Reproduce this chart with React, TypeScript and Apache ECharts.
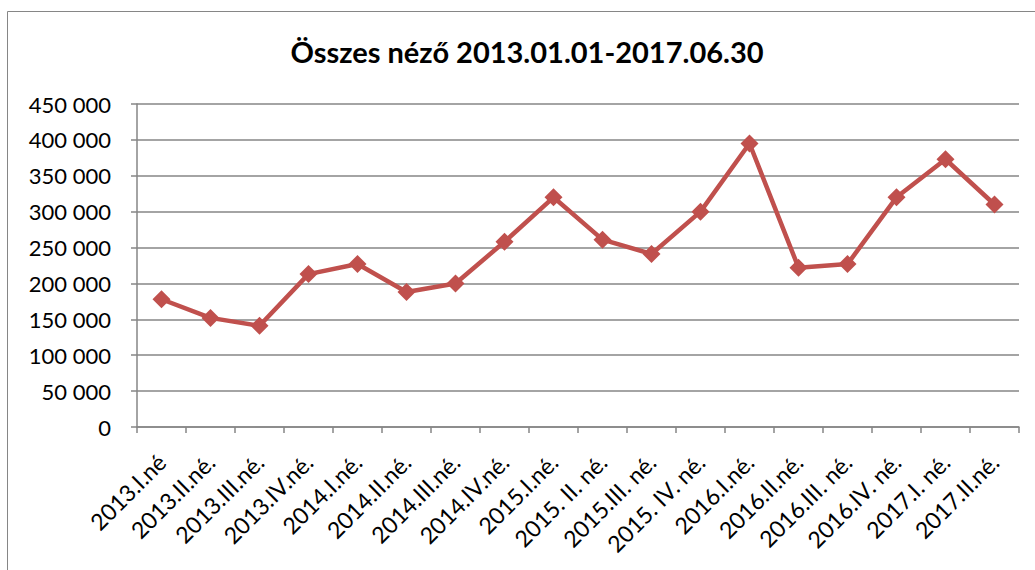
import React, { useEffect, useRef } from "react";
import * as echarts from "echarts";

const titleText = "Összes néző 2013.01.01-2017.06.30";
const categories = [
  "2013.I.né", "2013.II.né.", "2013.III.né.", "2013.IV.né.",
  "2014.I.né.", "2014.II.né.", "2014.III.né.", "2014.IV.né.",
  "2015.I.né.", "2015. II. né.", "2015.III. né.", "2015. IV. né.",
  "2016.I.né.", "2016.II.né.", "2016.III. né.", "2016.IV. né.",
  "2017.I. né.", "2017.II.né.",
];
const viewers = [
  178000, 152000, 141000, 213000,
  227000, 188000, 200000, 258000,
  320000, 261000, 241000, 300000,
  395000, 222000, 227000, 320000,
  373000, 310000,
];

const fmt = (v: number) => {
  if (v === 0) return "0";
  const s = String(v);
  return s.replace(/\B(?=(\d{3})+(?!\d))/g, " ");
};

export default function App() {
  const ref = useRef<HTMLDivElement>(null);
  useEffect(() => {
    if (!ref.current) return;
    const chart = echarts.init(ref.current, null, { renderer: "svg" });
    const font = "Lato, 'Open Sans', sans-serif";
    chart.setOption({
      animation: false,
      backgroundColor: "#ffffff",
      title: {
        text: titleText,
        left: 522,
        top: 32,
        textAlign: "center",
        textStyle: { fontFamily: font, fontWeight: "bold", fontSize: 29, color: "#000" },
      },
      graphic: [
        {
          type: "rect",
          shape: { x: 7.5, y: 11.5, width: 1040, height: 600 },
          style: { fill: "none", stroke: "#868686", lineWidth: 1 },
          silent: true,
        },
      ],
      grid: { left: 137, right: 16, top: 104, bottom: 143, containLabel: false },
      xAxis: {
        type: "category",
        data: categories,
        boundaryGap: true,
        axisLine: { lineStyle: { color: "#868686", width: 1.5 } },
        axisTick: { show: true, alignWithLabel: false, length: 6, lineStyle: { color: "#868686", width: 1.5 } },
        axisLabel: {
          interval: 0,
          rotate: 45,
          margin: 31,
          fontFamily: font,
          fontSize: 23,
          color: "#000",
        },
      },
      yAxis: {
        type: "value",
        min: 0,
        max: 450000,
        interval: 50000,
        axisLine: { show: true, lineStyle: { color: "#868686", width: 1.5 } },
        axisTick: { show: true, length: 6, lineStyle: { color: "#868686", width: 1.5 } },
        splitLine: { show: true, lineStyle: { color: "#868686", width: 1.5 } },
        axisLabel: {
          formatter: (v: number) => fmt(v),
          margin: 26,
          fontFamily: font,
          fontSize: 22,
          color: "#000",
        },
      },
      series: [
        {
          type: "line",
          data: viewers,
          symbol: "path://M0,-1 L1,0 L0,1 L-1,0 Z",
          symbolSize: 18,
          lineStyle: { color: "#C0504D", width: 4.5 },
          itemStyle: { color: "#C0504D" },
        },
      ],
    });
    return () => chart.dispose();
  }, []);
  return (
    <div
      ref={ref}
      style={{ position: "fixed", left: 0, top: 0, width: 1035, height: 570 }}
    />
  );
}
